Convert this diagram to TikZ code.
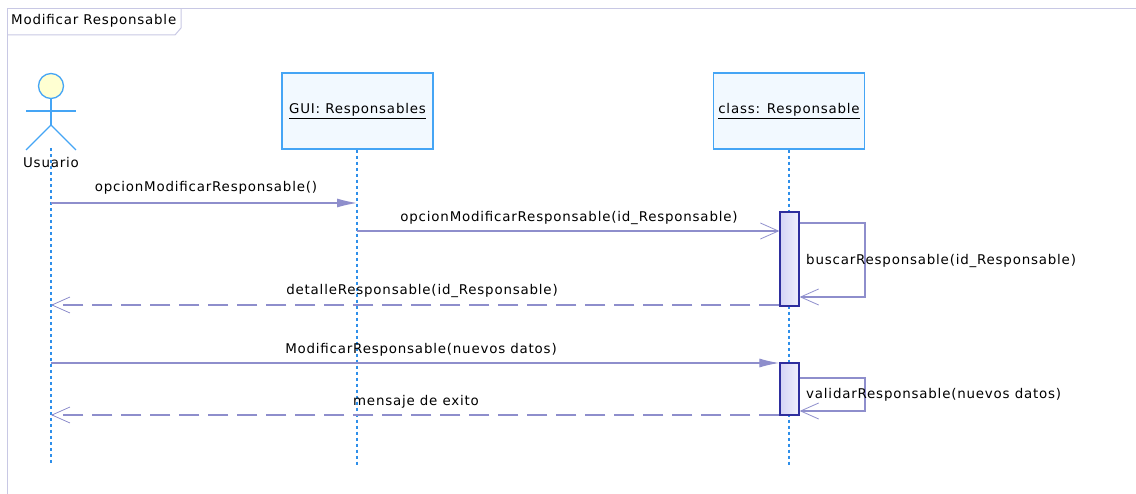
\documentclass[tikz,border=0pt]{standalone}
\usepackage{fontspec}
\setmainfont{DejaVu Sans}[LetterSpace=6]
\usetikzlibrary{arrows.meta}
\definecolor{frameC}{HTML}{C8C8E4}
\definecolor{msgC}{HTML}{8E8ECC}
\definecolor{lifeC}{HTML}{2E8FEA}
\definecolor{boxC}{HTML}{45A5F5}
\definecolor{boxF}{HTML}{F2F9FF}
\definecolor{actC}{HTML}{2E2E9E}
\definecolor{actF}{HTML}{D4D4F6}
\definecolor{headF}{HTML}{FFFFD2}
\begin{document}
\begin{tikzpicture}[x=1pt,y=-1pt, font=\fontsize{13.4}{16}\selectfont,
 lifebox/.style={draw=boxC, line width=1.3pt, fill=boxF, minimum width=151pt, minimum height=76pt, inner sep=0pt},
 lifeline/.style={draw=lifeC, line width=1.3pt, dash pattern=on 3pt off 3pt},
 actbar/.style={draw=actC, line width=1.3pt, left color=actF, right color=actF!35!white, minimum width=19pt, inner sep=0pt},
 msg/.style={draw=msgC, line width=1.2pt},
 sync/.style={msg, -{Latex[length=20pt,width=9pt]}},
 async/.style={msg, -{Straight Barb[length=18pt,width=16pt,line width=0.8pt]}},
 ret/.style={async, dash pattern=on 20pt off 9pt},
 lbl/.style={inner sep=0pt, text=black},
 actorline/.style={draw=boxC, line width=1.3pt},
]
\useasboundingbox (0,0) rectangle (1136,494);
% frame
\draw[frameC, line width=1pt] (7,494) -- (7,9) -- (1136,9);
\draw[frameC, line width=1pt] (7,35) -- (175,35) -- (181,28) -- (181,9);
\node[lbl, anchor=west] (title) at (11,21) {Modificar Responsable};
% actor
\node[circle, draw=boxC, fill=headF, line width=1.3pt, minimum size=25pt, inner sep=0pt] (head) at (51,86) {};
\coordinate (hip) at (51,125);
\draw[actorline] (head.south) -- (hip);
\draw[actorline] (26,111) -- (76,111);
\draw[actorline] (26,150) -- (hip) -- (76,150);
\node[lbl] (usr) at (51,163) {Usuario};
% lifeline heads
\node[lifebox] (gui) at (357.5,111) {\underline{GUI: Responsables}};
\node[lifebox] (cls) at (789,111) {\underline{class: Responsable}};
% lifelines
\coordinate (uTop) at (51,148);
\coordinate (uEnd) at (51,465);
\coordinate (gEnd) at (357,465);
\coordinate (cEnd) at (789,465);
\draw[lifeline] (uTop) -- (uEnd);
\draw[lifeline] (gui.south -| gEnd) -- (gEnd);
\draw[lifeline] (cls.south) -- (cEnd);
% activation bars
\node[actbar, minimum height=94pt] (act1) at (789.5,259) {};
\node[actbar, minimum height=52pt] (act2) at (789.5,389) {};
% messages
\coordinate (u1) at (51,203);
\coordinate (g1) at (357,203);
\draw[sync] (u1) -- (g1);
\node[lbl] (l1) at (206,188) {opcionModificarResponsable()};

\coordinate (g2) at (357,231);
\draw[async] (g2) -- (act1.west |- g2);
\node[lbl] (l2) at (569,218) {opcionModificarResponsable(id\_Responsable)};

\coordinate (s1a) at (865,223);
\coordinate (s1b) at (865,297);
\draw[async] (act1.east |- s1a) -- (s1a) -- (s1b) -- (act1.east |- s1b);
\node[lbl, anchor=west] (l3) at (806,261) {buscarResponsable(id\_Responsable)};

\coordinate (u4) at (51,305);
\draw[ret] (act1.west |- u4) -- (u4);
\node[lbl] (l4) at (422,291) {detalleResponsable(id\_Responsable)};

\coordinate (u5) at (51,363);
\draw[sync] (u5) -- (act2.west |- u5);
\node[lbl] (l5) at (421,350) {ModificarResponsable(nuevos datos)};

\coordinate (s2a) at (865,378);
\coordinate (s2b) at (865,411);
\draw[async] (act2.east |- s2a) -- (s2a) -- (s2b) -- (act2.east |- s2b);
\node[lbl, anchor=west] (l6) at (806,395) {validarResponsable(nuevos datos)};

\coordinate (u7) at (51,415);
\draw[ret] (act2.west |- u7) -- (u7);
\node[lbl] (l7) at (416,402) {mensaje de exito};
\end{tikzpicture}
\end{document}
